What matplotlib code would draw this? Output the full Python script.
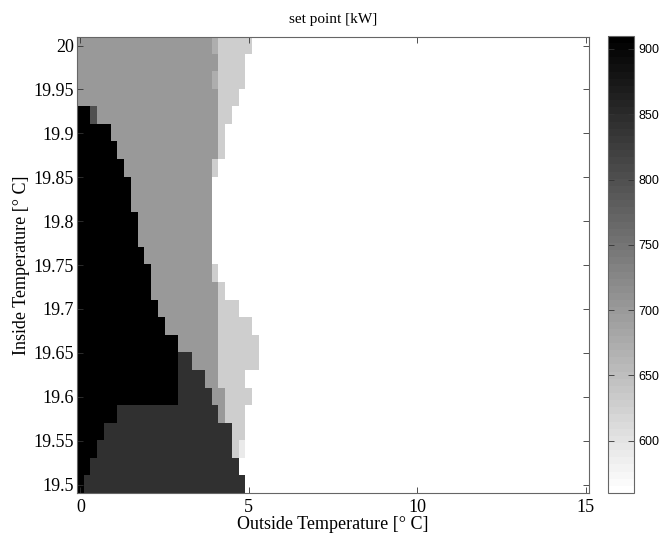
import numpy as np
import matplotlib
matplotlib.use("Agg")
import matplotlib.pyplot as plt
from matplotlib.colors import ListedColormap
from matplotlib.ticker import FormatStrFormatter

# grid axes
outside_temp = np.round(np.arange(0, 15.0001, 0.2), 2)      # 76 columns
inside_temp = np.round(np.arange(20.0, 19.4999, -0.02), 2)  # 26 rows, top row first

# set point levels [kW]
B, D, M, L, W = 910, 840, 700, 630, 560

# runs of (set point, number of cells) per row, from 20.00 down to 19.50;
# whatever is left of a row is W
row_runs = [
    [(M, 20), (670, 1), (L, 5)],
    [(M, 21), (L, 4)],
    [(M, 20), (670, 1), (L, 4)],
    [(M, 21), (L, 3)],
    [(B, 2), (800, 1), (M, 18), (L, 2)],
    [(B, 5), (M, 16), (L, 1)],
    [(B, 6), (M, 15), (L, 1)],
    [(B, 7), (M, 13), (L, 1)],
    [(B, 8), (M, 12)],
    [(B, 8), (M, 12)],
    [(B, 9), (M, 11)],
    [(B, 9), (M, 11)],
    [(B, 10), (M, 10)],
    [(B, 11), (M, 9), (L, 1)],
    [(B, 11), (M, 10), (L, 1)],
    [(B, 12), (M, 9), (L, 3)],
    [(B, 13), (M, 8), (L, 5)],
    [(B, 15), (M, 6), (L, 6)],
    [(B, 15), (D, 2), (M, 4), (L, 6)],
    [(B, 15), (D, 4), (M, 2), (L, 4)],
    [(B, 15), (D, 5), (M, 2), (L, 4)],
    [(B, 6), (D, 15), (M, 1), (L, 3)],
    [(B, 4), (D, 19), (L, 2)],
    [(B, 3), (D, 20), (L, 1), (590, 1)],
    [(B, 2), (D, 22)],
    [(B, 1), (D, 24)],
]

cbar_ticks = [600, 650, 700, 750, 800, 850, 900]
x_ticks = [0, 5, 10, 15]
y_ticks = np.round(np.arange(19.5, 20.001, 0.05), 2)


def build_grid(runs, ncols):
	grid = np.full((len(runs), ncols), float(W))
	for r, row in enumerate(runs):
		c = 0
		for val, n in row:
			grid[r, c:c + n] = val
			c += n
	return grid


grid = build_grid(row_runs, len(outside_temp))

serif = ["Liberation Serif", "DejaVu Serif"]
sans = ["Liberation Sans", "DejaVu Sans"]
plt.rcParams["font.family"] = serif

# matlab style flipped gray(64)
cmap = ListedColormap(np.repeat(np.linspace(1, 0, 64)[:, None], 3, axis=1))

fig = plt.figure(figsize=(6.64, 5.41), dpi=100)
ax = fig.add_axes([0.116, 0.088, 0.771, 0.844])
dx = outside_temp[1] - outside_temp[0]
dy = inside_temp[0] - inside_temp[1]
extent = [outside_temp[0] - dx / 2, outside_temp[-1] + dx / 2,
          inside_temp[-1] - dy / 2, inside_temp[0] + dy / 2]
im = ax.imshow(grid, cmap=cmap, vmin=560, vmax=910, extent=extent,
               aspect="auto", interpolation="nearest", origin="upper")
ax.set_xlim(extent[0], extent[1])
ax.set_ylim(extent[2], extent[3])

ax.set_xticks(x_ticks)
ax.set_yticks(y_ticks)
ax.yaxis.set_major_formatter(FormatStrFormatter("%g"))
ax.tick_params(direction="in", length=4, width=0.6, color="#333333",
               top=True, right=True, labelsize=13)
ax.tick_params(axis="y", pad=2)
ax.tick_params(axis="x", pad=4)
for s in ax.spines.values():
	s.set_color("#666666")
	s.set_linewidth(0.8)

ax.set_xlabel("Outside Temperature [° C]", fontsize=13, labelpad=0)
ax.set_ylabel("Inside Temperature [° C]", fontsize=13, labelpad=3)
ax.set_title("set point [kW]", fontsize=11, pad=10)

cax = fig.add_axes([0.916, 0.0887, 0.039, 0.845])
cb = fig.colorbar(im, cax=cax, ticks=cbar_ticks)
cb.outline.set_edgecolor("#666666")
cb.outline.set_linewidth(0.8)
cax.tick_params(direction="in", length=4, width=0.6, color="#333333",
                left=True, right=True, labelsize=9, pad=3)
for lbl in cax.get_yticklabels():
	lbl.set_family(sans)

fig.savefig("out.png", dpi=100)
